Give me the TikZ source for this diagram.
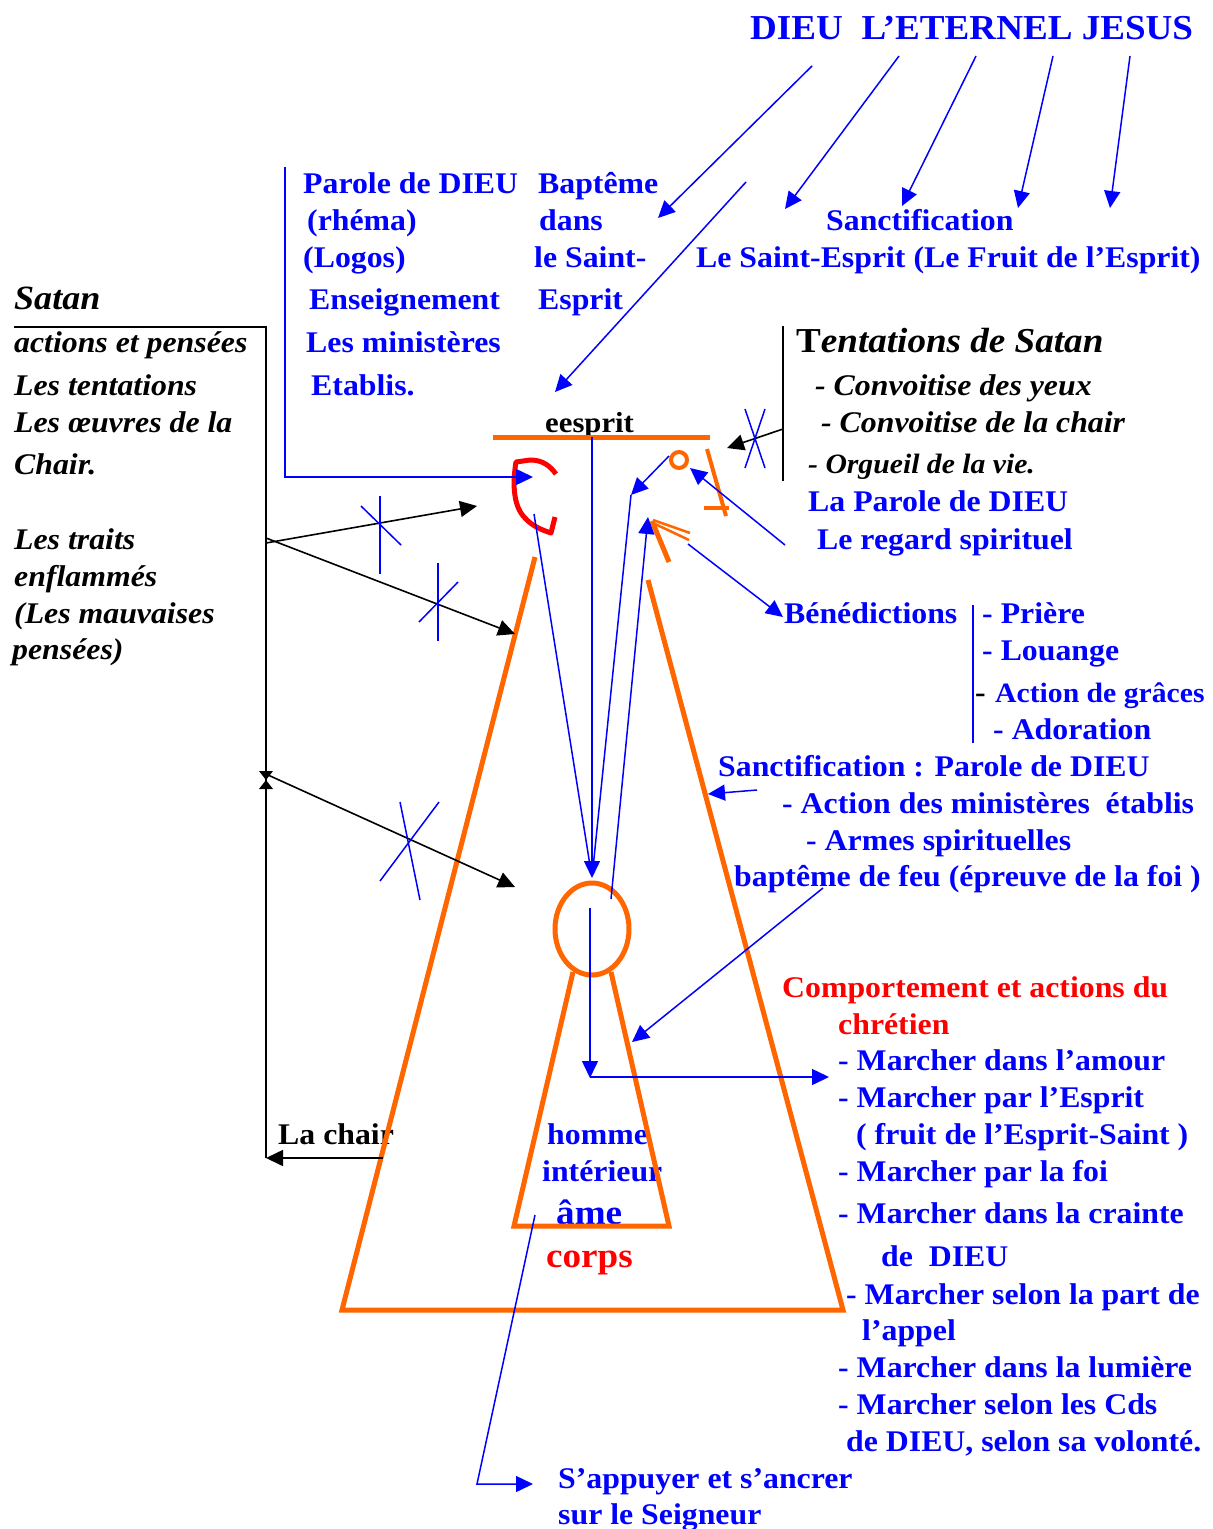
\documentclass[tikz,border=0pt]{standalone}
\usepackage{fontspec}
\setmainfont{Liberation Serif}[FakeStretch=1.06]
\usetikzlibrary{arrows.meta}
\definecolor{myblue}{RGB}{0,0,255}
\definecolor{myorange}{RGB}{255,102,0}
\definecolor{myred}{RGB}{255,0,0}
\begin{document}
\begin{tikzpicture}[x=1pt,y=-1pt,
  txt/.style={anchor=base west, inner sep=0pt, font=\bfseries\fontsize{30}{36}\selectfont},
  bt/.style={txt, text=myblue},
  kt/.style={txt, text=black, font=\bfseries\itshape\fontsize{30}{36}\selectfont},
  rt/.style={txt, text=myred},
  bl/.style={draw=myblue, line width=1.5pt},
  ba/.style={bl, -{Triangle[length=17pt,width=16pt]}},
  kl/.style={draw=black, line width=1.6pt},
  ka/.style={kl, -{Triangle[length=17pt,width=16pt]}},
  orl/.style={draw=myorange, line width=5pt, line join=miter},
  xm/.style={draw=myblue, line width=1.5pt},
]
\fill[white] (0,0) rectangle (1213,1529);
\useasboundingbox (0,0) rectangle (1213,1529);

% ---------- texts ----------
\node[bt, font=\bfseries\fontsize{35}{40}\selectfont] (title) at (750,39) {DIEU\ \ L’ETERNEL JESUS};

\node[bt] (p1) at (303,193) {Parole de DIEU};
\node[bt] (p2) at (307,230) {(rhéma)};
\node[bt] (p3) at (303,267) {(Logos)};
\node[bt] (p4) at (309,309) {Enseignement};
\node[bt] (p5) at (306,352) {Les ministères};
\node[bt] (p6) at (311,395) {Etablis.};

\node[bt] (b1) at (538,193) {Baptême};
\node[bt] (b2) at (539,230) {dans};
\node[bt] (b3) at (534,267) {le Saint-};
\node[bt] (b4) at (538,309) {Esprit};

\node[bt] (s1) at (826,230) {Sanctification};
\node[bt] (s2) at (696,267) {Le Saint-Esprit (Le Fruit de l’Esprit)};

\node[kt, font=\bfseries\itshape\fontsize{34}{40}\selectfont] (sat) at (14,309) {Satan};
\node[kt] (l1) at (14,352) {actions et pensées};
\node[kt] (l2) at (14,395) {Les tentations};
\node[kt] (l3) at (14,432) {Les œuvres de la};
\node[kt] (l4) at (14,474) {Chair.};
\node[kt] (l5) at (14,549) {Les traits};
\node[kt] (l6) at (14,586) {enflammés};
\node[kt] (l7) at (14,623) {(Les mauvaises};
\node[kt] (l8) at (12,659) {pensées)};

\node[txt, font=\bfseries\fontsize{35}{40}\selectfont] (tent) at (796,352) {T\textit{entations de Satan}};
\node[kt] (c1) at (815,395) {- Convoitise des yeux};
\node[kt] (c2) at (821,432) {- Convoitise de la chair};
\node[kt, font=\bfseries\itshape\fontsize{28}{32}\selectfont] (c3) at (808,473) {- Orgueil de la vie.};

\node[bt] (r1) at (808,511) {La Parole de DIEU};
\node[bt] (r2) at (817,549) {Le regard spirituel};

\node[bt] (ben) at (784,623) {Bénédictions};
\node[bt] (q1) at (982,623) {- Prière};
\node[bt] (q2) at (982,660) {- Louange};
\node[txt] (q3d) at (975,702) {-};
\node[bt, font=\bfseries\fontsize{28}{34}\selectfont] (q3) at (995,702) {Action de grâces};
\node[bt] (q4) at (993,739) {- Adoration};

\node[bt] (sc1) at (718,776) {Sanctification : Parole de DIEU};
\node[bt] (sc2) at (782,813) {- Action des ministères\ \ établis};
\node[bt] (sc3) at (806,850) {- Armes spirituelles};
\node[bt] (sc4) at (734,886) {baptême de feu (épreuve de la foi )};

\node[rt] (cp1) at (782,997) {Comportement et actions du};
\node[rt] (cp2) at (838,1034) {chrétien};
\node[bt] (m1) at (838,1070) {- Marcher dans l’amour};
\node[bt] (m2) at (838,1107) {- Marcher par l’Esprit};
\node[bt] (m3) at (856,1144) {( fruit de l’Esprit-Saint )};
\node[bt] (m4) at (838,1181) {- Marcher par la foi};
\node[bt] (m5) at (838,1223) {- Marcher dans la crainte};
\node[bt] (m6) at (881,1266) {de\ \ DIEU};
\node[bt] (m7) at (846,1304) {- Marcher selon la part de};
\node[bt] (m8) at (862,1340) {l’appel};
\node[bt] (m9) at (838,1377) {- Marcher dans la lumière};
\node[bt] (m10) at (838,1414) {- Marcher selon les Cds};
\node[bt] (m11) at (846,1451) {de DIEU, selon sa volonté.};

\node[bt] (h1) at (547,1144) {homme};
\node[bt] (h2) at (542,1181) {intérieur};
\node[bt, font=\bfseries\fontsize{35}{40}\selectfont] (ame) at (556,1224) {âme};
\node[rt, font=\bfseries\fontsize{35}{40}\selectfont] (corps) at (546,1267) {corps};
\node[txt] (chair) at (278,1144) {La chair};
\node[txt, font=\bfseries\fontsize{29}{34}\selectfont] (esp) at (545,432) {eesprit};

\node[bt] (ap1) at (558,1488) {S’appuyer et s’ancrer};
\node[bt] (ap2) at (558,1524) {sur le Seigneur};

% ---------- orange figure ----------
\draw[orl] (493,437) -- (710,437);
\draw[orl] (535,557) -- (342,1310) -- (843,1310) -- (648,580);
\draw[orl] (573,972) -- (514,1226) -- (669,1226) -- (611,972);
\draw[orl] (592,929) ellipse [x radius=37pt, y radius=46pt];
\draw[myorange, line width=4pt] (679,460) circle [radius=8pt];
\draw[myorange, line width=4pt] (707,449) -- (726,516);
\draw[myorange, line width=4pt] (704,508) -- (729,508);
\draw[myorange, line width=5pt] (652,521) -- (669,562);
\draw[myorange, line width=2.5pt] (653,520) -- (690,533);
\draw[myorange, line width=2.5pt] (653,523) -- (689,540);
\draw[myred, line width=5pt, line join=round]
  (556,474) .. controls (550,466) and (543,460) .. (530,460) -- (516,462)
  .. controls (513,480) and (512,505) .. (525,518)
  .. controls (532,526) and (542,530) .. (551,533) -- (555,517);

% ---------- coordinates ----------
\coordinate (ear) at (533,477);
\coordinate (hd) at (592,878);
\coordinate (nose) at (631,495);
\coordinate (mouth) at (648,517);
\coordinate (eye) at (690,468);
\coordinate (ebar) at (555,392);
\coordinate (gB) at (266,1158);
\coordinate (anc) at (533,1484);
\coordinate (benL) at (783,617);

% ---------- blue connectors ----------
\draw[ba] (285,167) -- (285,477) -- (ear);
\draw[ba] (592,437) -- (hd);
\draw[bl, shorten >=6pt] (534,514) -- (hd);
\draw[bl, shorten >=6pt] (nose) -- (hd);
\draw[ba] (669,456) -- (nose);
\draw[ba] (611,899) -- (mouth);
\draw[ba] (688,544) -- (benL);
\draw[ba] (785,545) -- (eye);
\draw[ba] (812,66) -- (658,218);
\draw[ba] (899,56) -- (785,209);
\draw[ba] (976,56) -- (902,206);
\draw[ba] (1053,56) -- (1018,208);
\draw[ba] (1130,56) -- (1110,208);
\draw[ba] (746,182) -- (ebar);
\draw[ba] (757,790) -- (708,794);
\draw[ba] (823,888) -- (632,1042);
\draw[ba] (590,908) -- (590,1078);
\draw[ba] (590,1077) -- (829,1077);
\draw[ba] (535,1215) -- (477,1484) -- (anc);
\draw[bl] (973,605) -- (973,743);

% ---------- black connectors ----------
\draw[kl] (14,327) -- (266,327) -- (gB);
\draw[ka] (383,1158) -- (gB);
\draw[ka] (266,543) -- (477,506);
\draw[ka] (266,538) -- (515,634);
\draw[ka] (268,775) -- (515,887);
\fill (259,771) -- (273,771) -- (266,780) -- cycle;
\fill (259,789) -- (273,789) -- (266,780) -- cycle;
\draw[kl] (783,326) -- (783,481);
\draw[ka] (783,429) -- (727,448);

% ---------- crosses ----------
\draw[xm] (380,496) -- (380,574);
\draw[xm] (361,506) -- (401,545);
\draw[xm] (438,563) -- (438,641);
\draw[xm] (419,622) -- (458,582);
\draw[xm] (400,802) -- (420,900);
\draw[xm] (439,802) -- (380,881);
\draw[xm] (745,409) -- (765,468);
\draw[xm] (765,409) -- (745,468);
\end{tikzpicture}
\end{document}
